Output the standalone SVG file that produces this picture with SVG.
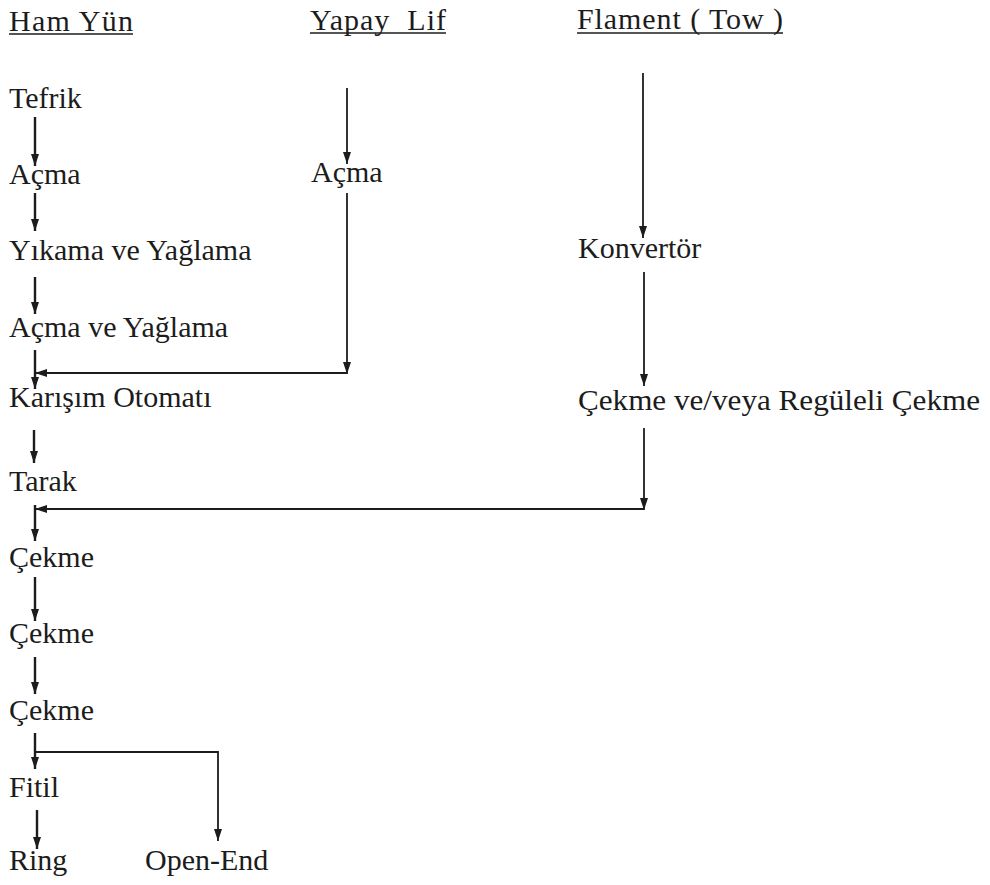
<svg xmlns="http://www.w3.org/2000/svg" width="990" height="885" viewBox="0 0 990 885">
  <style>
    text { font-family: 'Liberation Serif', 'DejaVu Serif', serif; font-size: 30px; fill: #1c1c1c; }
    .u { stroke: #1c1c1c; stroke-width: 1.4; fill: none; }
    .ca { stroke: #1c1c1c; stroke-width: 1.8; fill: none; marker-end: url(#ah); }
    .cb { stroke: #1c1c1c; stroke-width: 2.4; fill: none; marker-end: url(#ah); }
  </style>
  <defs>
    <marker id="ah" markerUnits="userSpaceOnUse" markerWidth="13" markerHeight="9" refX="12" refY="4.5" orient="auto">
      <path d="M0,0.5 L12,4.5 L0,8.5 Z" fill="#1c1c1c"/>
    </marker>
  </defs>
  <rect width="990" height="885" fill="#ffffff"/>

  <!-- column headings -->
  <g id="head-ham-yun">
    <text x="9" y="31" textLength="124" lengthAdjust="spacing">Ham Yün</text>
    <line class="u" x1="9" y1="34" x2="133" y2="34"/>
  </g>
  <g id="head-yapay-lif">
    <text x="310" y="30" textLength="136" lengthAdjust="spacing" xml:space="preserve">Yapay  Lif</text>
    <line class="u" x1="310" y1="33" x2="446" y2="33"/>
  </g>
  <g id="head-flament">
    <text x="577" y="29" textLength="206" lengthAdjust="spacing">Flament ( Tow )</text>
    <line class="u" x1="577" y1="33" x2="783" y2="33"/>
  </g>

  <!-- process steps -->
  <g id="tefrik"><text x="9" y="108">Tefrik</text></g>
  <g id="acma-1"><text x="9" y="184">Açma</text></g>
  <g id="acma-2"><text x="311" y="182">Açma</text></g>
  <g id="yikama"><text x="9" y="260">Yıkama ve Yağlama</text></g>
  <g id="konvertor"><text x="578" y="258">Konvertör</text></g>
  <g id="acma-yaglama"><text x="9" y="337">Açma ve Yağlama</text></g>
  <g id="karisim"><text x="9" y="407">Karışım Otomatı</text></g>
  <g id="cekme-regule"><text x="578" y="410" textLength="402" lengthAdjust="spacingAndGlyphs">Çekme ve/veya Regüleli Çekme</text></g>
  <g id="tarak"><text x="9" y="491">Tarak</text></g>
  <g id="cekme-1"><text x="9" y="567">Çekme</text></g>
  <g id="cekme-2"><text x="9" y="643">Çekme</text></g>
  <g id="cekme-3"><text x="9" y="720">Çekme</text></g>
  <g id="fitil"><text x="9" y="797">Fitil</text></g>
  <g id="ring"><text x="9" y="870">Ring</text></g>
  <g id="open-end"><text x="145" y="870">Open-End</text></g>

  <!-- connectors -->
  <g id="connectors">
    <line class="cb" x1="35" y1="117" x2="35" y2="166"/>
    <line class="cb" x1="35" y1="193" x2="35" y2="231"/>
    <line class="cb" x1="35" y1="277" x2="35" y2="314"/>
    <line class="cb" x1="35" y1="350" x2="35" y2="389"/>

    <line class="ca" x1="347" y1="88" x2="347" y2="164"/>
    <line class="ca" x1="347" y1="193" x2="347" y2="374"/>
    <line class="ca" x1="347" y1="373" x2="35" y2="373"/>

    <line class="ca" x1="643" y1="73" x2="643" y2="238"/>
    <line class="ca" x1="644" y1="272" x2="644" y2="386"/>
    <line class="ca" x1="644" y1="428" x2="644" y2="510"/>
    <line class="ca" x1="644" y1="509" x2="35" y2="509"/>

    <line class="cb" x1="34" y1="430" x2="34" y2="463"/>
    <line class="cb" x1="35" y1="505" x2="35" y2="541"/>
    <line class="cb" x1="35" y1="577" x2="35" y2="621"/>
    <line class="cb" x1="35" y1="657" x2="35" y2="694"/>

    <line class="cb" x1="35" y1="733" x2="35" y2="769"/>
    <polyline class="ca" points="35,752 218,752 218,841"/>
    <line class="cb" x1="37" y1="810" x2="37" y2="849"/>
  </g>
</svg>
